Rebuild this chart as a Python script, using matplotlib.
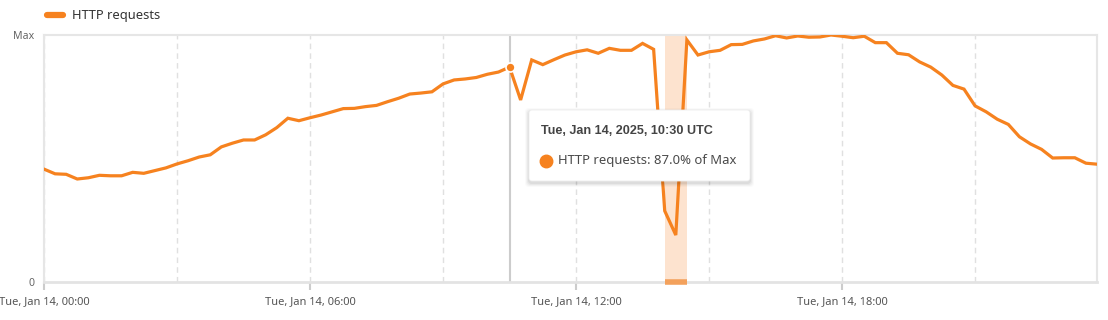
import matplotlib
matplotlib.use("Agg")
import matplotlib.pyplot as plt
import matplotlib.dates as mdates
from matplotlib.patches import FancyBboxPatch
import pandas as pd

plt.rcParams['font.family'] = ['Noto Sans', 'DejaVu Sans']

# HTTP requests as % of max, 15-minute buckets on Jan 14, 2025 (UTC)
times = pd.date_range("2025-01-14 00:00", periods=96, freq="15min")
requests_pct = [
    45.7, 43.8, 43.6, 41.7, 42.2, 43.2, 43.0, 43.0, 44.4, 44.0, 45.1, 46.2,
    47.8, 49.1, 50.6, 51.5, 54.7, 56.2, 57.5, 57.5, 59.6, 62.5, 66.3, 65.3,
    66.5, 67.6, 68.9, 70.2, 70.3, 71.0, 71.5, 73.0, 74.4, 76.1, 76.5, 77.0,
    80.2, 81.8, 82.2, 82.8, 84.1, 85.0, 87.0, 73.7, 89.9, 88.0, 90.0, 91.9,
    93.2, 94.0, 92.6, 94.6, 93.8, 93.8, 96.6, 94.2, 28.8, 19.0, 98.0, 91.9,
    93.2, 93.8, 96.1, 96.2, 97.6, 98.4, 99.7, 98.8, 99.6, 99.1, 99.2, 100.0,
    99.5, 98.9, 99.5, 96.9, 96.9, 92.6, 92.0, 89.1, 87.0, 83.8, 79.6, 78.1,
    71.3, 68.9, 65.9, 63.8, 58.8, 55.9, 53.7, 50.2, 50.3, 50.3, 48.1, 47.7,
]
hover_time = pd.Timestamp("2025-01-14 10:30")
hover_value = 87.0
band_start = pd.Timestamp("2025-01-14 14:00")
band_end = pd.Timestamp("2025-01-14 14:30")

orange = "#f6821f"
W, H = 1108, 320

fig = plt.figure(figsize=(W / 100, H / 100), dpi=100)
ax = fig.add_axes([44 / W, 1 - 282 / H, 1053 / W, 247 / H])

# highlighted window + marker on the axis
ax.axvspan(band_start, band_end, color="#fde3cf", zorder=1, lw=0)
ax.plot([band_start, band_end], [0, 0], color="#f3a15c", lw=4,
        solid_capstyle="butt", zorder=4, clip_on=False)

# hover cursor
ax.axvline(hover_time, color="#cccccc", lw=1.5, zorder=2)

ax.plot(times, requests_pct, color=orange, lw=2.3, zorder=3,
        solid_joinstyle="miter")
ax.plot([hover_time], [hover_value], "o", ms=6.5, color=orange,
        mec="white", mew=1.2, zorder=5)

ax.set_xlim(times[0], times[-1])
ax.set_ylim(0, 100)

ax.xaxis.set_major_locator(mdates.HourLocator(byhour=[0, 6, 12, 18]))
ax.xaxis.set_major_formatter(mdates.DateFormatter("%a, %b %d, %H:%M"))
ax.xaxis.set_minor_locator(mdates.HourLocator(byhour=[3, 9, 15, 21]))
ax.grid(True, axis="x", which="both", color="#e0e0e0", lw=1,
        linestyle=(0, (4, 3)), zorder=0)
ax.set_yticks([0, 100])
ax.set_yticklabels(["0", "Max"])

ax.tick_params(axis="x", which="major", length=6, width=1.5, color="#cccccc",
               labelsize=8.0, labelcolor="#555555", pad=4)
ax.tick_params(axis="x", which="minor", length=0)
ax.tick_params(axis="y", length=0, labelsize=7.6, labelcolor="#666666", pad=7)

for side in ["top", "right", "left"]:
    ax.spines[side].set_color("#e6e6e6")
    ax.spines[side].set_linewidth(1.5)
ax.spines["bottom"].set_color("#e3e3e3")
ax.spines["bottom"].set_linewidth(2)

# overlay in pixel coordinates for legend and tooltip
ov = fig.add_axes([0, 0, 1, 1])
ov.set_xlim(0, W)
ov.set_ylim(H, 0)
ov.axis("off")

ov.plot([47, 63], [15, 15], color=orange, lw=4.5, solid_capstyle="round")
ov.text(72, 15, "HTTP requests", fontsize=9.3, color="#333333",
        va="center", ha="left")

# tooltip with soft shadow
for k, a in [(8, 0.02), (6, 0.03), (4, 0.04), (2, 0.05)]:
    ov.add_patch(FancyBboxPatch((529 - k / 2, 110 - k / 2 + 2), 221 + k, 71 + k,
                                boxstyle="round,pad=0,rounding_size=4",
                                fc="black", ec="none", alpha=a, zorder=8))
ov.add_patch(FancyBboxPatch((529, 110), 221, 71,
                            boxstyle="round,pad=0,rounding_size=3",
                            fc="white", ec="#eeeeee", lw=0.6, zorder=9))
ov.text(541, 131, "Tue, Jan 14, 2025, 10:30 UTC", fontsize=9.1,
        fontweight="bold", family=["Liberation Sans", "DejaVu Sans"],
        color="#444444", va="center", ha="left", zorder=10)
ov.plot([546], [160.5], "o", ms=9, color=orange, zorder=10)
ov.text(558, 160.5, "HTTP requests: %.1f%% of Max" % hover_value, fontsize=9.4,
        color="#4a4a4a", va="center", ha="left", zorder=10)

fig.savefig("out.png", dpi=100)
